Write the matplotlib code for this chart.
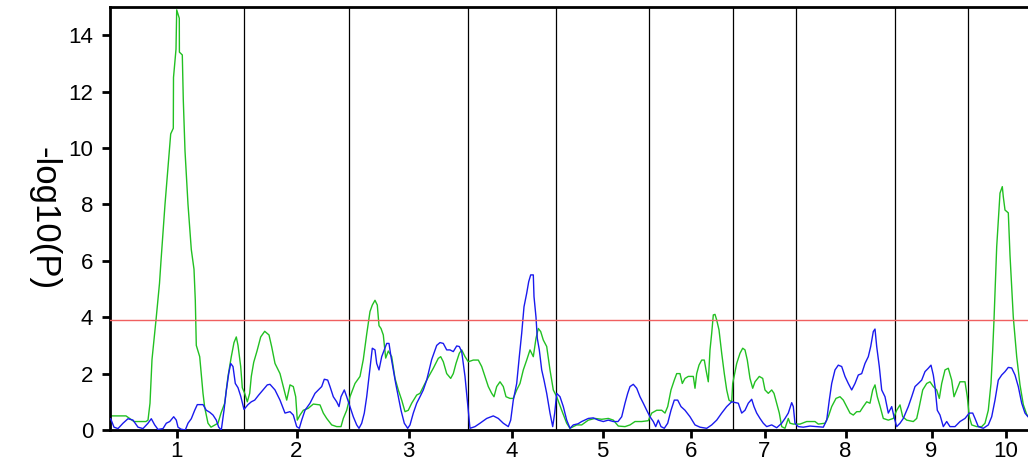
import matplotlib
matplotlib.use("Agg")
import matplotlib.pyplot as plt
import numpy as np

# chromosome layout (map position units)
chrom_labels = ["1", "2", "3", "4", "5", "6", "7", "8", "9", "10"]
chrom_starts = [0, 134, 239, 358, 446, 539, 623, 686, 785, 858]
chrom_end = 934
threshold = 3.9

green_pos = [0, 8, 16, 24, 36, 38, 40, 42, 46, 49.5, 51, 55, 59.3, 60.7, 63.3, 63.5, 66, 66.7, 69.3, 69.4, 72.3, 73.3, 75, 78,
             81.3, 84, 85.3, 86.3, 89.7, 93, 94.7, 98, 101, 108, 111, 114.7, 118, 121.3, 124, 126.3, 128, 130.7, 132.3, 134.7,
             137.3, 139.7, 141.3, 143.7, 147, 150.7, 154.7, 159, 161.7, 165, 170, 173.3, 176.7, 180, 183.3, 185.7, 187.3, 190,
             193.3, 198.3, 203.3, 210, 213.3, 216.7, 221.7, 226.7, 231, 233.3, 236.7, 240, 245, 250, 253.3, 256.7, 260, 262.3,
             265, 267.3, 269, 271, 273.3, 275.7, 278.3, 281.7, 285, 288.3, 291.7, 295, 298.3, 301.7, 306.7, 310, 316.7, 323.3,
             328.3, 330.7, 333.3, 336.7, 340.7, 343.3, 346, 349.3, 351.7, 355, 358.3, 363.3, 368.3, 371.7, 375, 378.3, 381.7,
             384, 386.7, 390, 393.3, 396, 400, 403.3, 406.7, 410, 413.3, 416.7, 420, 423.3, 426, 428.3, 430.7, 433.3, 436.7,
             440, 443.3, 446.7, 451.7, 456.7, 460, 463.3, 466.7, 471.7, 478.3, 485, 491.7, 498.3, 503.3, 508.3, 515, 520, 525,
             531.7, 538.3, 541.7, 546.7, 551.7, 555, 557.7, 561, 564.3, 566.7, 570, 572.3, 575, 578.3, 583.3, 585, 586.7, 589,
             591.7, 594.3, 596, 598.3, 600, 601.7, 603.3, 605, 606.7, 609, 611.7, 614.3, 616.7, 619, 621.7, 622.7, 626.7, 630,
             632.7, 635, 637.3, 640, 642.7, 645, 649.3, 652.7, 655, 658.3, 661.7, 664, 666.7, 669.3, 671.7, 675, 678.3, 680,
             683.3, 690, 696.7, 705, 708.3, 715, 718.3, 721.7, 726, 730, 733.3, 736.7, 740, 743.3, 746.7, 750, 753.3, 756.7,
             760, 762.7, 765, 767.3, 770, 773.3, 778.3, 783.3, 786.7, 790, 792.7, 796.7, 803.3, 806.7, 809.3, 812.7, 816.7, 820,
             823.3, 826.7, 829.3, 831.7, 835, 838.3, 841.7, 844, 846.7, 850, 855, 857.3, 859.3, 861.7, 866.7, 871.7, 875, 878.3,
             881, 882.7, 884, 886.7, 889.3, 890, 892.3, 893.3, 895, 898.3, 900, 903.3, 906.7, 910, 913.3, 916.7, 920]
green_val = [0.5, 0.5, 0.5, 0.3, 0.3, 0.35, 0.95, 2.5, 3.9, 5.2, 6.0, 8.0, 9.9, 10.5, 10.7, 12.5, 13.5, 14.9, 14.6, 13.4, 13.3, 11.7, 9.9, 8.0,
             6.4, 5.7, 4.6, 3.0, 2.6, 1.3, 0.8, 0.24, 0.1, 0.24, 0.6, 0.95, 1.9, 2.6, 3.1, 3.3, 3.0, 2.25, 1.5, 1.3,
             1.0, 1.3, 1.9, 2.4, 2.8, 3.3, 3.5, 3.37, 2.95, 2.36, 2.0, 1.54, 1.06, 1.6, 1.54, 1.18, 0.35, 0.53,
             0.7, 0.77, 0.92, 0.89, 0.6, 0.41, 0.18, 0.12, 0.12, 0.41, 0.7, 1.18, 1.65, 1.9, 2.5, 3.4, 4.2, 4.43,
             4.6, 4.43, 3.7, 3.6, 3.37, 2.55, 2.8, 2.6, 1.83, 1.42, 1.06, 0.65, 0.7, 0.95, 1.24, 1.3, 1.77, 2.19,
             2.54, 2.6, 2.42, 2.0, 1.83, 2.0, 2.36, 2.72, 2.84, 2.6, 2.42, 2.48, 2.48, 2.25, 1.9, 1.54, 1.3,
             1.18, 1.54, 1.71, 1.54, 1.18, 1.12, 1.12, 1.42, 1.65, 2.13, 2.48, 2.84, 2.6, 3.25, 3.6, 3.49, 3.19, 2.96,
             2.13, 1.42, 1.18, 0.7, 0.24, 0.06, 0.12, 0.18, 0.18, 0.35, 0.41, 0.38, 0.41, 0.35, 0.14, 0.12, 0.18, 0.3,
             0.3, 0.33, 0.6, 0.7, 0.7, 0.6, 0.83, 1.42, 1.77, 2.0, 2.0, 1.65, 1.83, 1.9, 1.9, 1.48, 2.0, 2.3,
             2.48, 2.48, 2.13, 1.71, 2.84, 3.43, 4.08, 4.1, 3.9, 3.55, 2.72, 2.0, 1.42, 1.06, 1.0, 1.65, 2.36, 2.72,
             2.9, 2.84, 2.48, 1.83, 1.48, 1.71, 1.9, 1.83, 1.42, 1.3, 1.42, 1.3, 0.95, 0.6, 0.12, 0.06, 0.41, 0.24,
             0.21, 0.21, 0.3, 0.3, 0.21, 0.24, 0.47, 0.83, 1.12, 1.18, 1.06, 0.83, 0.6, 0.53, 0.65, 0.65, 0.83, 1.0,
             0.95, 1.42, 1.6, 1.18, 0.85, 0.41, 0.35, 0.41, 0.7, 0.89, 0.47, 0.35, 0.3, 0.41, 0.83, 1.42, 1.65, 1.71,
             1.54, 1.42, 1.12, 1.65, 2.13, 2.19, 1.77, 1.18, 1.42, 1.71, 1.71, 1.18, 0.47, 0.18, 0.12, 0.12, 0.24, 0.7,
             1.65, 2.84, 3.9, 6.5, 8.0, 8.4, 8.63, 8.27, 7.8, 7.7, 6.2, 4.0, 2.6, 1.6, 0.9, 0.55, 0.4]

blue_pos = [0.7, 4, 8, 13, 18, 23, 28, 33, 38, 41.3, 44.7, 48, 53, 56.3, 59.7, 63.7, 66.3, 68, 71, 75.3, 78, 81.3, 84.7, 87.3,
            93, 96.3, 99.7, 103, 106.3, 108.7, 111.3, 114, 116.3, 118.7, 120.7, 123, 125.3, 128, 130.7, 134, 138, 141.3,
            144.7, 148.7, 153, 157.3, 160, 165, 170, 175, 180, 183.3, 186.7, 189.3, 191.7, 195, 200, 205, 208.3, 211.7,
            214.3, 217.7, 220, 223.3, 226.7, 229, 231, 234.3, 236.7, 240, 243.3, 246.7, 249, 251.7, 254.3, 256.7, 259, 261,
            262.3, 265, 266.7, 269, 271.7, 274.3, 276.7, 279, 281, 283.3, 285.7, 288.3, 291, 294.3, 297.7, 300, 303.3, 306.7,
            310, 313.3, 316.7, 321.7, 326.7, 330, 333.3, 336.7, 340, 343.3, 346.7, 349.3, 351.7, 355, 358.3, 360, 365, 370,
            376.7, 383.3, 388.3, 393.3, 398.3, 400.7, 403.3, 406.7, 409.3, 411.7, 414, 416.7, 418.7, 420.7, 423.3, 424, 426,
            427.3, 429.3, 431.7, 434, 436.7, 440, 442.7, 444.7, 446.7, 450, 453.3, 456.7, 460, 463.3, 468, 471.7, 478.3,
            483.3, 488.3, 493.3, 498.3, 503.3, 508, 511.7, 515, 517.7, 520, 523.3, 526.7, 530, 533.3, 536.7, 540, 543.3,
            545.7, 548.3, 551, 554.3, 557.7, 561, 564.3, 567.7, 571, 575, 580, 585, 590, 596.7, 601.7, 606.7, 611.7, 616.7,
            621.7, 628.3, 631.7, 635, 638.3, 641.7, 644, 646.7, 650, 653.3, 656.7, 661.7, 666.7, 671.7, 675, 678.3, 681.7,
            683.3, 685, 688.3, 693.3, 700, 706.7, 713.3, 716.7, 719.3, 721.7, 725, 728.3, 731.7, 735, 738.3, 741.7, 745,
            748.3, 751.7, 755, 758.3, 760.7, 763.3, 765, 766.7, 769.3, 771.7, 775, 778.3, 781.7, 784, 786.7, 790, 793.3,
            798.3, 801.7, 805, 808.3, 811.7, 815, 818.3, 821, 823.3, 825, 827.3, 830, 833.3, 836.7, 840, 845, 850, 855,
            859.3, 862.7, 865, 868.3, 873.3, 878.3, 881.7, 885, 888.3, 891.7, 895, 898.3, 901.7, 905, 908.3, 911.7, 915,
            918, 922]
blue_val = [0.4, 0.1, 0.05, 0.24, 0.4, 0.35, 0.1, 0.05, 0.24, 0.4, 0.18, 0.02, 0.05, 0.24, 0.3, 0.47, 0.35, 0.1, 0.03, 0.0, 0.24, 0.4, 0.7, 0.9,
            0.9, 0.7, 0.63, 0.53, 0.35, 0.1, 0.0, 0.7, 1.4, 2.0, 2.36, 2.25, 1.65, 1.5, 1.2, 0.73, 0.9, 1.0,
            1.06, 1.24, 1.42, 1.6, 1.62, 1.42, 1.06, 0.6, 0.65, 0.53, 0.12, 0.06, 0.35, 0.7, 0.95, 1.3, 1.42, 1.54,
            1.8, 1.77, 1.54, 1.18, 1.0, 0.83, 1.18, 1.42, 1.18, 0.83, 0.47, 0.18, 0.06, 0.24, 0.6, 1.18, 1.9, 2.5,
            2.9, 2.84, 2.36, 2.13, 2.6, 2.84, 3.07, 3.07, 2.6, 2.13, 1.65, 1.18, 0.7, 0.24, 0.06, 0.18, 0.6, 0.95,
            1.18, 1.42, 1.77, 2.5, 3.0, 3.1, 3.07, 2.84, 2.84, 2.78, 2.98, 2.96, 2.78, 1.9, 0.7, 0.06, 0.12, 0.24,
            0.41, 0.5, 0.41, 0.24, 0.12, 0.35, 1.06, 1.65, 2.6, 3.43, 4.37, 4.85, 5.26, 5.5, 5.5, 4.73, 4.0,
            3.25, 2.84, 2.13, 1.77, 1.3, 0.6, 0.12, 0.6, 1.3, 1.18, 0.83, 0.35, 0.06, 0.18, 0.22, 0.3, 0.41,
            0.43, 0.35, 0.3, 0.35, 0.3, 0.3, 0.47, 0.95, 1.3, 1.54, 1.62, 1.48, 1.18, 0.95, 0.7, 0.47, 0.3,
            0.12, 0.35, 0.12, 0.06, 0.24, 0.7, 1.06, 1.06, 0.83, 0.7, 0.47, 0.18, 0.1, 0.06, 0.18, 0.35, 0.6, 0.83,
            1.0, 0.95, 0.6, 0.7, 0.95, 1.09, 0.83, 0.6, 0.41, 0.24, 0.12, 0.18, 0.08, 0.24, 0.41, 0.6, 0.97,
            0.83, 0.24, 0.12, 0.1, 0.14, 0.12, 0.1, 0.35, 1.06, 1.65, 2.13, 2.3, 2.25, 1.9, 1.65, 1.42, 1.65,
            1.95, 2.0, 2.36, 2.6, 2.96, 3.49, 3.58, 2.96, 2.25, 1.42, 1.18, 0.6, 0.83, 0.47, 0.12, 0.24, 0.41,
            0.83, 1.18, 1.54, 1.65, 1.77, 2.07, 2.19, 2.3, 1.95, 1.54, 0.7, 0.53, 0.12, 0.3, 0.12, 0.12, 0.3, 0.41,
            0.6, 0.6, 0.41, 0.12, 0.06, 0.18, 0.47, 1.06, 1.77, 1.95, 2.07, 2.22, 2.2, 1.95, 1.54, 0.95, 0.6,
            0.47, 0.35]

plt.rcParams['font.family'] = ['Liberation Sans', 'DejaVu Sans']

fig = plt.figure(figsize=(10.28, 4.62), dpi=100)
ax = fig.add_axes([110 / 1028, 1 - 430 / 462, 1 - 110 / 1028, (430 - 7) / 462])

for s in chrom_starts[1:]:
    ax.axvline(s, color='black', lw=0.9, zorder=1)

ax.plot(green_pos, green_val, color='#22c022', lw=1.0, zorder=2)
ax.plot(blue_pos, blue_val, color='#1a1aee', lw=1.0, zorder=3)
ax.axhline(threshold, color='#f06060', lw=1.0, zorder=4)

bounds = chrom_starts + [chrom_end]
centers = [(bounds[i] + bounds[i + 1]) / 2 for i in range(len(chrom_labels))]
ax.set_xticks(centers)
ax.set_xticklabels(chrom_labels)
ax.set_xlim(0, 918)
ax.set_ylim(0, 15)
ax.set_yticks(np.arange(0, 15, 2))

for side in ['left', 'bottom', 'top']:
    ax.spines[side].set_linewidth(2.0)
ax.spines['right'].set_visible(False)
ax.tick_params(axis='both', direction='out', length=6, width=2, labelsize=16)
ax.tick_params(axis='y', pad=6)
ax.tick_params(axis='x', pad=2, top=False)

fig.text(44 / 1028, 1 - 219 / 462, '-log10(P)', rotation=270, ha='center', va='center', fontsize=25)

fig.savefig('out.png', dpi=100)
